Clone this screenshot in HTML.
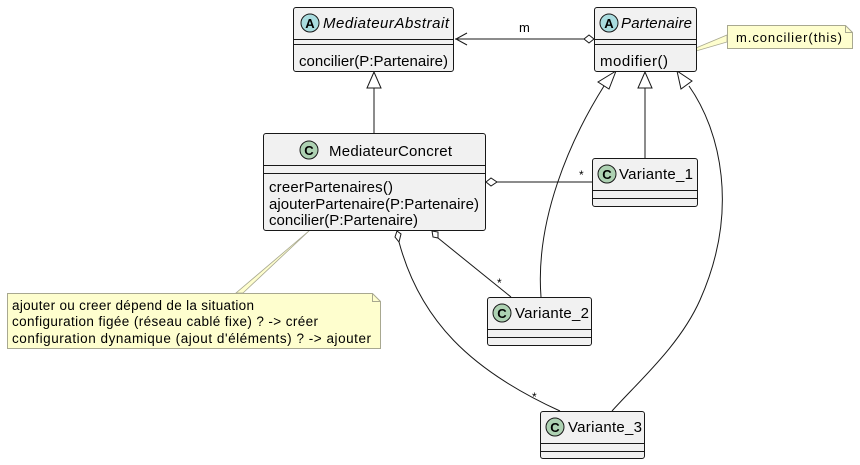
<!DOCTYPE html>
<html><head><meta charset="utf-8"><style>
html,body{margin:0;padding:0;background:#fff;width:860px;height:465px;overflow:hidden}
text{font-family:"Liberation Sans","DejaVu Sans",sans-serif;fill:#000}
</style></head><body>
<svg width="860" height="465" viewBox="0 0 860 465" xmlns="http://www.w3.org/2000/svg">
<g fill="none" stroke="#181818" stroke-width="1">
<line x1="455" y1="39" x2="584" y2="39"/>
<polyline points="467,33 456,39 467,45"/>
<polygon points="584,39 589,35 594,39 589,43" fill="#fff"/>
<line x1="374" y1="88" x2="374" y2="133"/>
<polygon points="374,72 367,88 381,88" fill="#fff"/>
<line x1="645" y1="88" x2="645" y2="158"/>
<polygon points="645,72 638,88 652,88" fill="#fff"/>
<path d="M604,86 C570,140 535,220 541,297"/>
<polygon points="616,71 598,82 609,89" fill="#fff"/>
<path d="M689,86 C720,130 740,210 700,300 C680,345 640,380 612,411"/>
<polygon points="677,71 681,89 692,81" fill="#fff"/>
<line x1="497" y1="182" x2="592" y2="182"/>
<polygon points="486,182 491,178 497,182 491,186" fill="#fff"/>
<line x1="438" y1="238" x2="511" y2="297"/>
<polygon points="432,231 438,232 438,238 433,237" fill="#fff"/>
<path d="M399,242 C420,320 470,370 560,411"/>
<polygon points="397,231 401,234 399,242 395,237" fill="#fff"/>
<path d="M672,58 L727,35 L727,42 Z" fill="#fefece" stroke="#a8a890" stroke-width="0.8"/>
<path d="M310,230 L236,293 L243,293 Z" fill="#fefece" stroke="#a8a890" stroke-width="0.8"/>
</g>

<rect x="293.5" y="7.5" width="160" height="64" rx="2.5" fill="#f1f1f1" stroke="#181818"/>
<line x1="293.5" y1="39.5" x2="453.5" y2="39.5" stroke="#181818"/>
<line x1="293.5" y1="44.5" x2="453.5" y2="44.5" stroke="#181818"/>
<circle cx="310" cy="23" r="9" fill="#a9dcdf" stroke="#181818"/>
<text x="310" y="28" font-size="13" font-weight="bold" text-anchor="middle">A</text>
<text x="323" y="28" font-size="15" font-style="italic" textLength="126">MediateurAbstrait</text>
<text x="299" y="66" font-size="15" textLength="149">concilier(P:Partenaire)</text>

<rect x="594.5" y="7.5" width="102" height="64" rx="2.5" fill="#f1f1f1" stroke="#181818"/>
<line x1="594.5" y1="39.5" x2="696.5" y2="39.5" stroke="#181818"/>
<line x1="594.5" y1="44.5" x2="696.5" y2="44.5" stroke="#181818"/>
<circle cx="609" cy="23" r="9" fill="#a9dcdf" stroke="#181818"/>
<text x="609" y="28" font-size="13" font-weight="bold" text-anchor="middle">A</text>
<text x="621" y="28" font-size="15" font-style="italic" textLength="71">Partenaire</text>
<text x="600" y="66" font-size="15" textLength="68">modifier()</text>
<text x="519" y="32" font-size="13">m</text>

<path d="M727.5,25.5 H845.5 L852.5,32.5 V48.5 H727.5 Z" fill="#fefece" stroke="#a8a890"/>
<path d="M845.5,25.5 V32.5 H852.5" fill="none" stroke="#a8a890"/>
<text x="736" y="42" font-size="13" textLength="106">m.concilier(this)</text>

<rect x="263.5" y="133.5" width="222" height="97" rx="2.5" fill="#f1f1f1" stroke="#181818"/>
<line x1="263.5" y1="165.5" x2="485.5" y2="165.5" stroke="#181818"/>
<line x1="263.5" y1="173.5" x2="485.5" y2="173.5" stroke="#181818"/>
<circle cx="309" cy="150" r="9" fill="#add1b2" stroke="#181818"/>
<text x="309" y="155" font-size="13" font-weight="bold" text-anchor="middle">C</text>
<text x="329" y="156" font-size="15" textLength="123">MediateurConcret</text>
<text x="269" y="192" font-size="15" textLength="124">creerPartenaires()</text>
<text x="269" y="209" font-size="15" textLength="210">ajouterPartenaire(P:Partenaire)</text>
<text x="269" y="225" font-size="15" textLength="149">concilier(P:Partenaire)</text>

<rect x="592.5" y="158.5" width="105" height="48" rx="2.5" fill="#f1f1f1" stroke="#181818"/>
<line x1="592.5" y1="190.5" x2="697.5" y2="190.5" stroke="#181818"/>
<line x1="592.5" y1="198.5" x2="697.5" y2="198.5" stroke="#181818"/>
<circle cx="607" cy="174" r="9" fill="#add1b2" stroke="#181818"/>
<text x="607" y="179" font-size="13" font-weight="bold" text-anchor="middle">C</text>
<text x="619" y="179" font-size="15" textLength="74">Variante_1</text>
<text x="579" y="179" font-size="12">*</text>

<rect x="487.5" y="297.5" width="104" height="48" rx="2.5" fill="#f1f1f1" stroke="#181818"/>
<line x1="487.5" y1="329.5" x2="591.5" y2="329.5" stroke="#181818"/>
<line x1="487.5" y1="337.5" x2="591.5" y2="337.5" stroke="#181818"/>
<circle cx="502" cy="313" r="9" fill="#add1b2" stroke="#181818"/>
<text x="502" y="318" font-size="13" font-weight="bold" text-anchor="middle">C</text>
<text x="515" y="318" font-size="15" textLength="74">Variante_2</text>
<text x="497" y="287" font-size="12">*</text>

<rect x="540.5" y="411.5" width="104" height="47" rx="2.5" fill="#f1f1f1" stroke="#181818"/>
<line x1="540.5" y1="443.5" x2="644.5" y2="443.5" stroke="#181818"/>
<line x1="540.5" y1="451.5" x2="644.5" y2="451.5" stroke="#181818"/>
<circle cx="555" cy="427" r="9" fill="#add1b2" stroke="#181818"/>
<text x="555" y="432" font-size="13" font-weight="bold" text-anchor="middle">C</text>
<text x="568" y="432" font-size="15" textLength="74">Variante_3</text>
<text x="532" y="401" font-size="12">*</text>

<path d="M7.5,293.5 H372.5 L380.5,301.5 V348.5 H7.5 Z" fill="#fefece" stroke="#a8a890"/>
<path d="M372.5,293.5 V301.5 H380.5" fill="none" stroke="#a8a890"/>
<text x="12" y="310" font-size="13.5" textLength="242">ajouter ou creer dépend de la situation</text>
<text x="12" y="326" font-size="13.5" textLength="306">configuration figée (réseau cablé fixe) ? -&gt; créer</text>
<text x="12" y="343" font-size="13.5" textLength="359">configuration dynamique (ajout d'éléments) ? -&gt; ajouter</text>
</svg>
</body></html>
